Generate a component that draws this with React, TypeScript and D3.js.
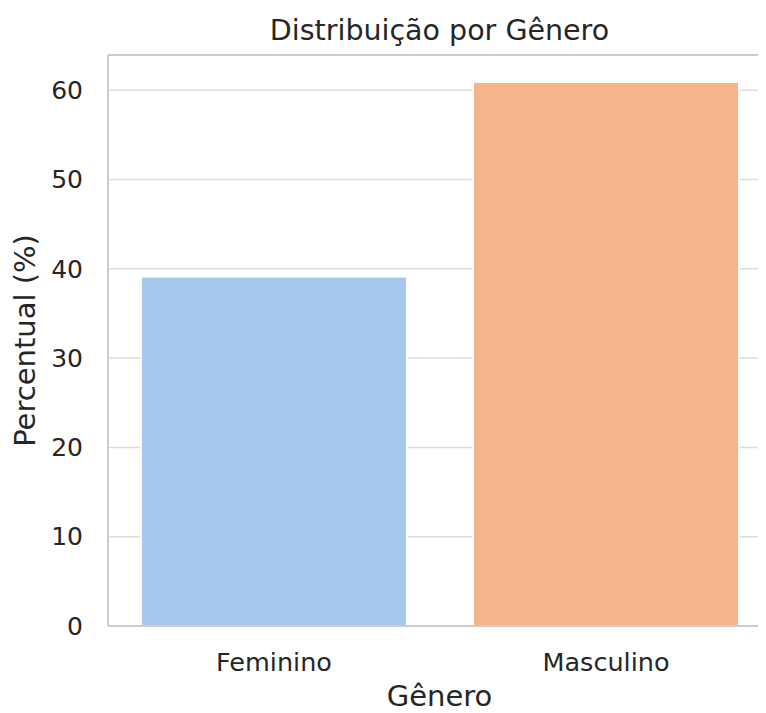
import * as d3 from "d3";
import {useEffect, useRef} from "react";

const categories = ["Feminino", "Masculino"];
const values = [39.1, 60.9];
const colors = ["#a6c8ec", "#f6b48b"];
const yTicks = [0, 10, 20, 30, 40, 50, 60];

export default function App() {
    const svgRef = useRef(null);
    const width = 766;
    const height = 713;
    const margin = {top: 55, right: -6, bottom: 87, left: 108};

    useEffect(() => {
        if (!svgRef.current) return;
        d3.select(svgRef.current).selectAll("*").remove();

        const svg = d3.select(svgRef.current)
            .attr("width", width)
            .attr("height", height)
            .style("font-family", "DejaVu Sans");

        const x = d3.scaleBand()
            .domain(categories)
            .range([margin.left, width - margin.right])
            .paddingInner(0.2)
            .paddingOuter(0.1);

        const y = d3.scaleLinear()
            .domain([0, d3.max(values)! * 1.05])
            .range([height - margin.bottom, margin.top]);

        // grid lines
        svg.append("g")
            .selectAll("line")
            .data(yTicks)
            .join("line")
            .attr("x1", margin.left)
            .attr("x2", width)
            .attr("y1", d => y(d))
            .attr("y2", d => y(d))
            .attr("stroke", "#dddddd")
            .attr("stroke-width", 1.5);

        // bars
        svg.append("g")
            .selectAll("rect")
            .data(values)
            .join("rect")
            .attr("x", (_, i) => x(categories[i])!)
            .attr("width", x.bandwidth())
            .attr("y", d => y(d))
            .attr("height", d => y(0) - y(d))
            .attr("fill", (_, i) => colors[i])
            .attr("stroke", "white")
            .attr("stroke-width", 1.5);

        // spines
        svg.append("line")
            .attr("x1", margin.left).attr("x2", margin.left)
            .attr("y1", margin.top).attr("y2", height - margin.bottom)
            .attr("stroke", "#cccccc").attr("stroke-width", 2);
        svg.append("line")
            .attr("x1", margin.left).attr("x2", width)
            .attr("y1", height - margin.bottom).attr("y2", height - margin.bottom)
            .attr("stroke", "#cccccc").attr("stroke-width", 2);
        svg.append("line")
            .attr("x1", margin.left).attr("x2", width)
            .attr("y1", margin.top).attr("y2", margin.top)
            .attr("stroke", "#cccccc").attr("stroke-width", 2);

        // y tick labels
        svg.append("g")
            .selectAll("text")
            .data(yTicks)
            .join("text")
            .attr("x", 83)
            .attr("y", d => y(d))
            .attr("dy", "0.35em")
            .attr("text-anchor", "end")
            .attr("font-size", 25)
            .attr("fill", "#262626")
            .text(d => d);

        // x tick labels
        svg.append("g")
            .selectAll("text")
            .data(categories)
            .join("text")
            .attr("x", d => x(d)! + x.bandwidth() / 2)
            .attr("y", 671)
            .attr("text-anchor", "middle")
            .attr("font-size", 25.5)
            .attr("fill", "#262626")
            .text(d => d);

        // axis labels
        svg.append("text")
            .attr("x", (margin.left + 771) / 2)
            .attr("y", 706)
            .attr("text-anchor", "middle")
            .attr("font-size", 29)
            .attr("fill", "#262626")
            .text("Gênero");

        svg.append("text")
            .attr("transform", `translate(35,${(margin.top + height - margin.bottom) / 2}) rotate(-90)`)
            .attr("text-anchor", "middle")
            .attr("font-size", 29)
            .attr("fill", "#262626")
            .text("Percentual (%)");

        svg.append("text")
            .attr("x", (margin.left + 771) / 2)
            .attr("y", 40)
            .attr("text-anchor", "middle")
            .attr("font-size", 28.5)
            .attr("fill", "#262626")
            .text("Distribuição por Gênero");
    }, []);

    return (
        <div style={{margin: -8}}>
            <svg ref={svgRef}></svg>
        </div>
    );
}
